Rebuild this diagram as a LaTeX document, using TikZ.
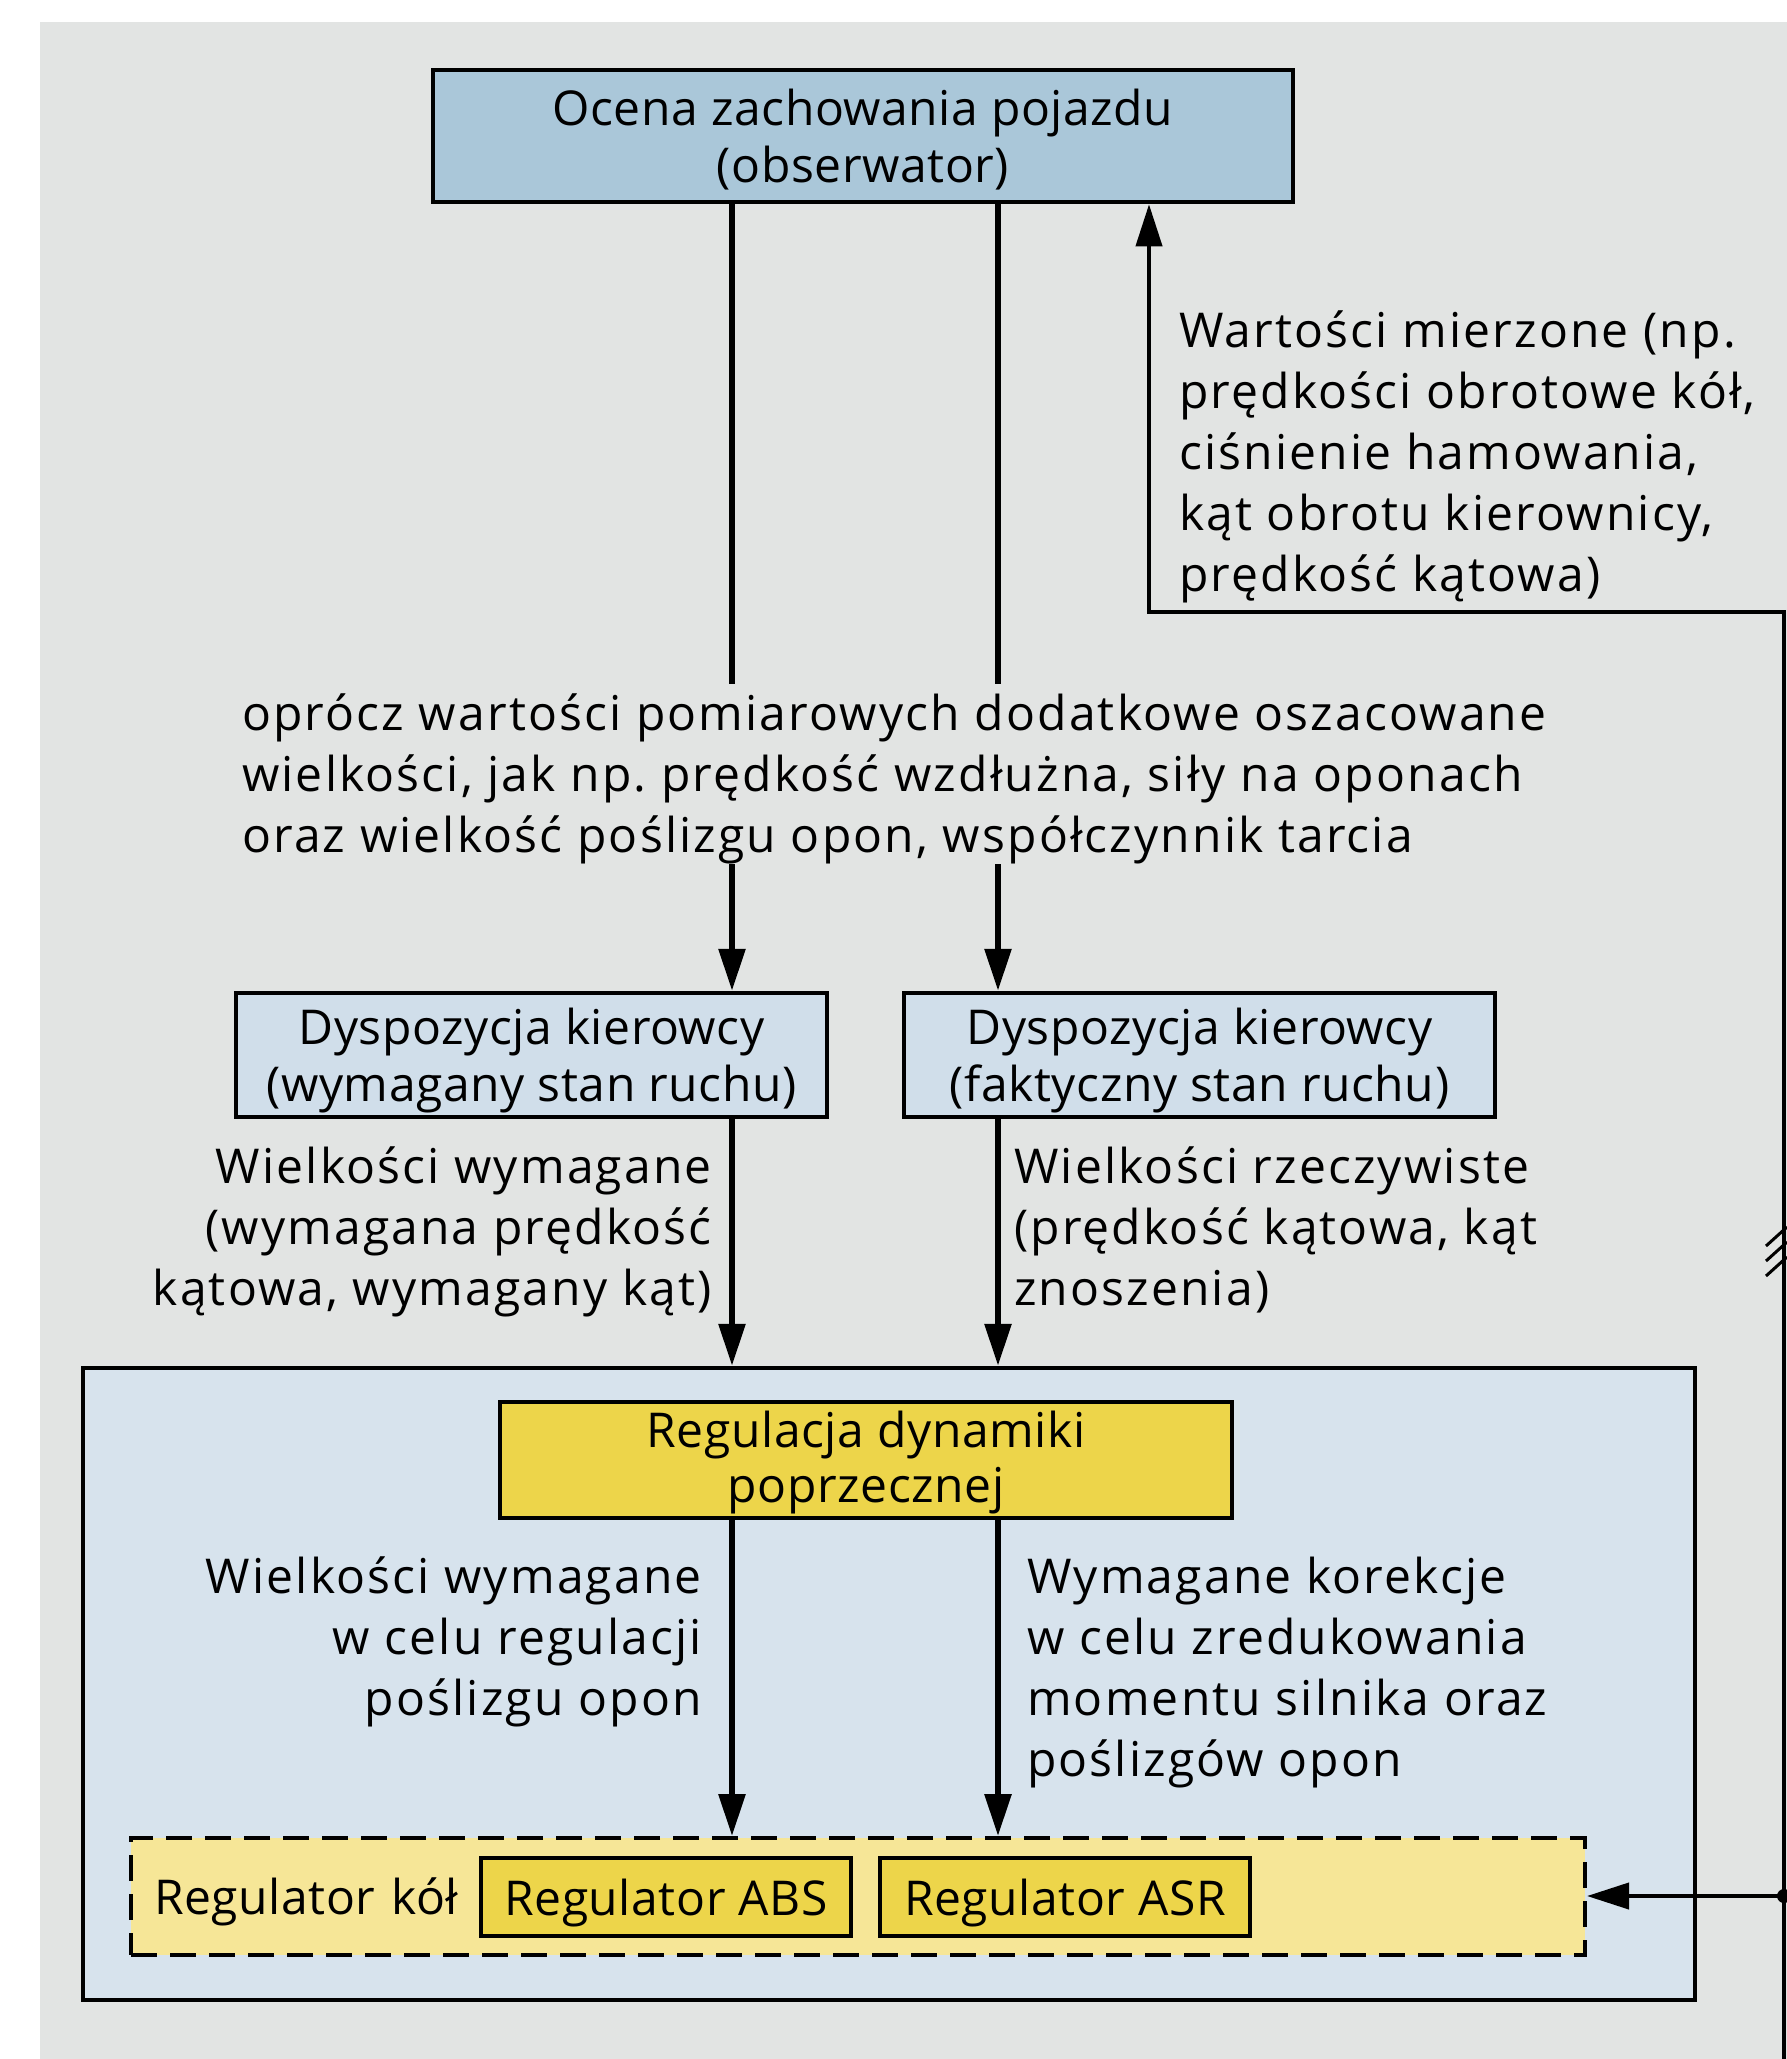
\documentclass[tikz,border=0pt]{standalone}
\usepackage{fontspec}
\setmainfont[LetterSpace=1.2]{Open Sans}
\newfontfamily\lblfont[LetterSpace=4.5]{Open Sans}
\usetikzlibrary{arrows.meta}
\frenchspacing

\definecolor{tlo}{HTML}{E2E4E3}
\definecolor{obsblue}{HTML}{AAC7D9}
\definecolor{dysblue}{HTML}{D0DEEA}
\definecolor{ctrlblue}{HTML}{D7E3ED}
\definecolor{regyellow}{HTML}{EDD54A}
\definecolor{kolayellow}{HTML}{F6E697}

\begin{document}
\begin{tikzpicture}[x=1pt, y=-1pt,
    every node/.style={inner sep=0pt, font=\fontsize{48}{57}\selectfont},
    box/.style={draw, line width=4.5pt, align=center, text depth=0pt},
    lbl/.style={font=\lblfont\fontsize{48}{61}\selectfont},
    stem/.style={line width=6pt},
    flow/.style={stem, -{Triangle[width=26pt,length=42pt]}},
    feed/.style={line width=4pt}]

    \useasboundingbox (0,0) rectangle (1787,2059);
    \fill[white] (0,0) rectangle (1787,2059);
    \fill[tlo] (40,22) rectangle (1787,2059);

    \coordinate (cL) at (732,0);
    \coordinate (cR) at (998,0);
    \coordinate (fbx) at (1149,612);
    \coordinate (rail) at (1784,612);
    \coordinate (railend) at (1784,2059);
    \coordinate (tap) at (1784,1896);

    \node[box, fill=obsblue, minimum width=860pt, minimum height=132pt] (obs) at (863,136)
        {Ocena zachowania pojazdu\\(obserwator)};
    \node[box, fill=dysblue, minimum width=591pt, minimum height=124pt] (dwym) at (531.5,1055)
        {Dyspozycja kierowcy\\(wymagany stan ruchu)};
    \node[box, fill=dysblue, minimum width=591pt, minimum height=124pt] (dfak) at (1199.5,1055)
        {Dyspozycja kierowcy\\(faktyczny stan ruchu)};
    \node[box, fill=ctrlblue, minimum width=1612pt, minimum height=632pt] (ctrl) at (889,1684) {};
    \node[box, fill=regyellow, minimum width=732pt, minimum height=116pt, text depth=7.5pt,
        font=\fontsize{48}{55}\selectfont] (reg) at (866,1460)
        {Regulacja dynamiki\\poprzecznej};
    \node[box, fill=kolayellow, line width=4pt, dash pattern=on 26pt off 13pt, minimum height=117pt,
        text width=1408pt, inner xsep=23pt, align=left] (kola) at (858,1896.5) {Regulator kół};
    \node[box, fill=regyellow, line width=4pt, minimum width=370pt, minimum height=78pt] (abs) at (666,1897)
        {Regulator ABS};
    \node[box, fill=regyellow, line width=4pt, minimum width=370pt, minimum height=78pt] (asr) at (1065,1897)
        {Regulator ASR};

    \node[lbl, anchor=north west, align=left] (wart) at (1179,310.5)
        {Wartości mierzone (np.\\prędkości obrotowe kół,\\ciśnienie hamowania,\\kąt obrotu kierownicy,\\prędkość kątowa)};
    \node[lbl, anchor=north west, align=left] (opis) at (242,693.5)
        {oprócz wartości pomiarowych dodatkowe oszacowane\\wielkości, jak np. prędkość wzdłużna, siły na oponach\\oraz wielkość poślizgu opon, współczynnik tarcia};
    \node[lbl, anchor=north east, align=right] (wymL) at (712,1146.5)
        {Wielkości wymagane\\(wymagana prędkość\\kątowa, wymagany kąt)};
    \node[lbl, anchor=north west, align=left] (rzecz) at (1014,1146.5)
        {Wielkości rzeczywiste\\(prędkość kątowa, kąt\\znoszenia)};
    \node[lbl, anchor=north east, align=right] (celL) at (702,1556.5)
        {Wielkości wymagane\\w celu regulacji\\poślizgu opon};
    \node[lbl, anchor=north west, align=left] (korek) at (1027,1556.5)
        {Wymagane korekcje\\w celu zredukowania\\momentu silnika oraz\\poślizgów opon};

    \foreach \c/\d in {cL/dwym, cR/dfak} {
        \draw[stem] (obs.south -| \c) -- ([yshift=10pt]opis.north -| \c);
        \draw[flow] (opis.south -| \c) -- (\d.north -| \c);
        \draw[flow] (\d.south -| \c) -- (ctrl.north -| \c);
        \draw[flow] (reg.south -| \c) -- (kola.north -| \c);
    }

    \draw[feed, -{Triangle[width=26pt,length=42pt]}] (railend) -- (rail) -- (fbx) -- (obs.south -| fbx);
    \fill (tap) circle (7);
    \draw[feed, -{Triangle[width=26pt,length=42pt]}] (tap) -- (kola.east |- tap);
    \foreach \h in {1227,1242,1257}
        \draw[line width=3pt] (1766,\h+19) -- (1787,\h);
\end{tikzpicture}
\end{document}
